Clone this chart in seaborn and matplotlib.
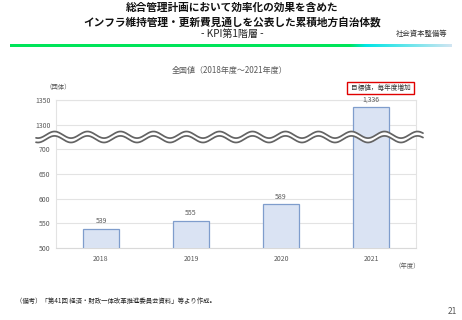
import numpy as np
import pandas as pd
import matplotlib
matplotlib.use("Agg")
import matplotlib.pyplot as plt
import seaborn as sns
from matplotlib.patches import Rectangle

years = ["2018", "2019", "2020", "2021"]
counts = [539, 555, 589, 1336]
value_labels = ["539", "555", "589", "1,336"]
ytick_values = [500, 550, 600, 650, 700, 1300, 1350]
ytick_labels = ["500", "550", "600", "650", "700", "1300", "1350"]

sns.set_theme(style="white")
plt.rcParams["font.family"] = ["Noto Sans CJK JP", "DejaVu Sans"]

W, H = 462, 320
fig = plt.figure(figsize=(W / 100, H / 100), dpi=100)
fig.patch.set_facecolor("white")

def fx(px):
    return px / W

def fy(py):
    return 1 - py / H

ax = fig.add_axes([fx(56), fy(248), fx(416) - fx(56), fy(100) - fy(248)])

# broken axis: compress 700..1300 into one tick step
def fwd(v):
    return np.interp(v, [0, 700, 1300, 3000], [0, 700, 750, 2450])

def inv(v):
    return np.interp(v, [0, 700, 750, 2450], [0, 700, 1300, 3000])

ax.set_yscale("function", functions=(fwd, inv))

df = pd.DataFrame({"year": years, "count": counts})
sns.barplot(data=df, x="year", y="count", ax=ax, width=0.4,
            color="#dae3f3", edgecolor="#7f9dcc", linewidth=0.9,
            saturation=1, zorder=3)

ax.set_ylim(500, 1350)
ax.set_yticks(ytick_values)
ax.set_yticklabels(ytick_labels)
ax.set_xlabel("")
ax.set_ylabel("")
ax.grid(axis="y", color="#e3e3e3", linewidth=0.8, zorder=0)
ax.grid(axis="x", visible=False)
for s in ax.spines.values():
    s.set_color("#e3e3e3")
    s.set_linewidth(0.8)
ax.spines["bottom"].set_color("#d9d9d9")
ax.tick_params(axis="both", labelsize=5.0, colors="#595959", length=0, pad=4)
ax.tick_params(axis="x", pad=5)
ax.set_xticks([0.5, 1.5, 2.5], minor=True)
ax.tick_params(axis="x", which="minor", length=2, color="#d9d9d9", width=0.8)

for i, (v, lab) in enumerate(zip(counts, value_labels)):
    ax.annotate(lab, (i, v), xytext=(0, 2.5), textcoords="offset points",
                ha="center", va="bottom", fontsize=5.0, color="#595959")

# wavy break symbol
xs = np.linspace(36, 423, 600)
period = 33.0
amp = 3.3
base = 137.0
phase = 2 * np.pi * (xs - 38) / period
w1 = base - 2.2 + amp * np.sin(phase + np.pi / 2)
w2 = base + 2.2 + amp * np.sin(phase + np.pi / 2)
fig.add_artist(plt.Polygon(
    np.column_stack([np.concatenate([fx(xs), fx(xs[::-1])]),
                     np.concatenate([fy(w1), fy(w2[::-1])])]),
    closed=True, facecolor="white", edgecolor="none",
    transform=fig.transFigure, zorder=10))
for w in (w1, w2):
    fig.add_artist(plt.Line2D(fx(xs), fy(w), color="#636363", lw=1.25,
                              transform=fig.transFigure, zorder=11))

# header texts
tkw = dict(ha="center", va="center", fontsize=7.7, fontweight="bold", color="#111111")
fig.text(fx(232), fy(7.5), "総合管理計画において効率化の効果を含めた", **tkw)
fig.text(fx(232), fy(22), "インフラ維持管理・更新費見通しを公表した累積地方自治体数", **tkw)
fig.text(fx(232), fy(34), "- KPI第1階層 -", ha="center", va="center",
         fontsize=7.2, color="#222222")
fig.text(fx(422), fy(34), "社会資本整備等", ha="center", va="center",
         fontsize=5.3, color="#333333")

# gradient rule
grad_x = np.linspace(10, 452, 400)
rgb = np.zeros((1, len(grad_x), 3))
for k, a in enumerate(grad_x):
    if a < 350:
        c = (0.0, 0.90, 0.35)
    elif a < 366:
        t = (a - 350) / 16
        c = (0.0, 0.90, 0.35 + 0.55 * t)
    else:
        t = (a - 366) / (452 - 366)
        c = (0.82 * t, 0.90, 0.90 + 0.05 * t)
    rgb[0, k] = c
gax = fig.add_axes([fx(10), fy(46.6), fx(452) - fx(10), fy(44.4) - fy(46.6)])
gax.imshow(rgb, aspect="auto", interpolation="bilinear")
gax.set_axis_off()

# chart annotations
fig.text(fx(230), fy(70), "全国値（2018年度～2021年度）", ha="center", va="center",
         fontsize=5.8, color="#595959")
fig.text(fx(58), fy(87), "（団体）", ha="center", va="center",
         fontsize=4.6, color="#595959")
fig.text(fx(407), fy(266), "（年度）", ha="center", va="center",
         fontsize=4.6, color="#595959")
fig.add_artist(Rectangle((fx(347), fy(94)), fx(414) - fx(347), fy(82) - fy(94),
                         transform=fig.transFigure, facecolor="white",
                         edgecolor="#e00000", linewidth=1.0))
fig.text(fx(380.5), fy(88), "目標値，毎年度増加", ha="center", va="center",
         fontsize=4.8, color="#333333")

fig.text(fx(16), fy(301), "（備考）「第41回 経済・財政一体改革推進委員会資料」等より作成。",
         ha="left", va="center", fontsize=4.6, color="#222222")
fig.text(fx(452), fy(312), "21", ha="center", va="center",
         fontsize=6.0, color="#555555")

fig.savefig("out.png", dpi=100, facecolor="white")
